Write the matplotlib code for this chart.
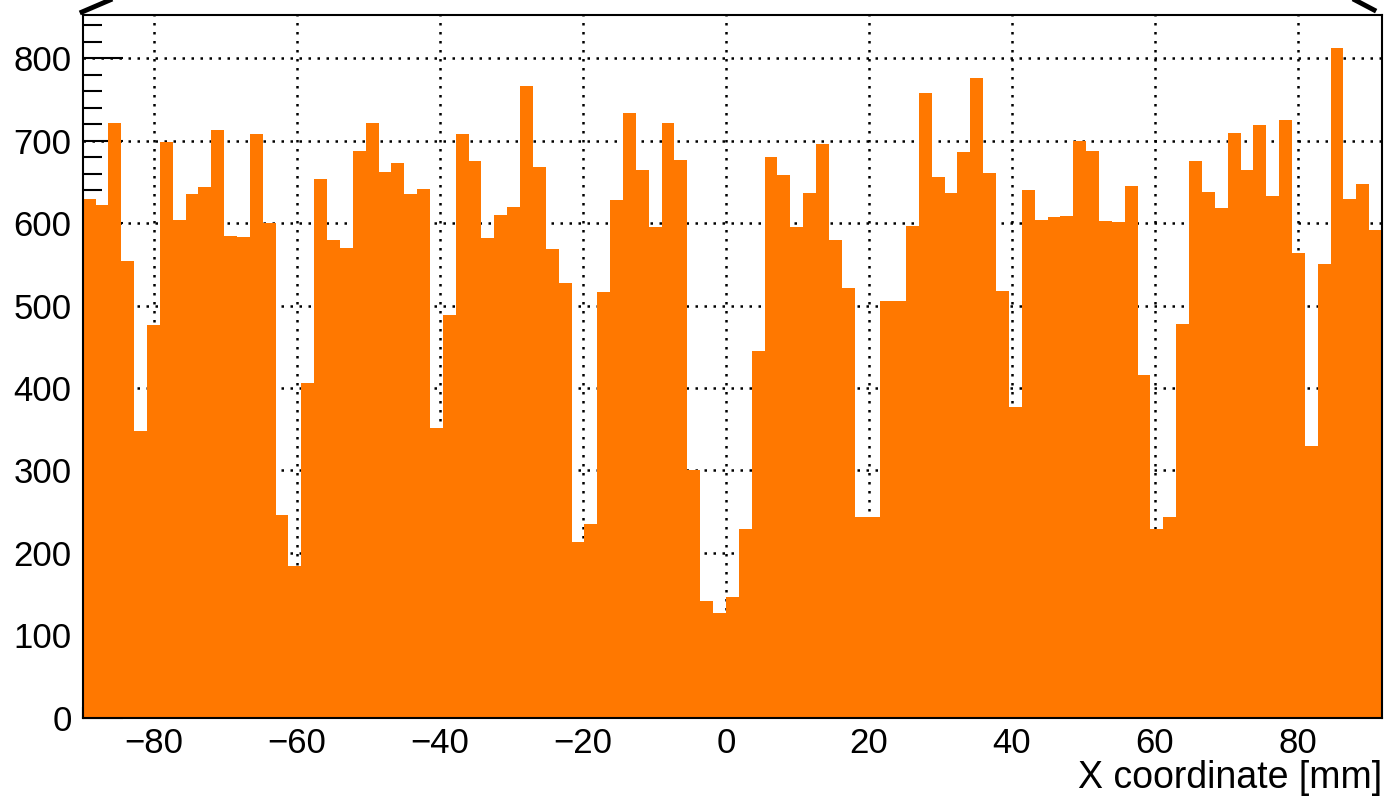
import numpy as np
import matplotlib
matplotlib.use("Agg")
import matplotlib.pyplot as plt
from matplotlib.ticker import MultipleLocator
from matplotlib.lines import Line2D

# histogram binning (101 bins of 1.8 mm starting at -90 mm)
x_lo = -90.0
bin_w = 1.8

# bin contents left to right
counts = [
    629, 622, 722, 554, 348, 477, 698, 604, 636, 644,
    713, 585, 583, 708, 600, 246, 184, 406, 654, 579,
    570, 688, 722, 662, 673, 636, 642, 352, 489, 708,
    676, 582, 610, 620, 766, 668, 569, 528, 213, 235,
    516, 628, 734, 665, 595, 721, 677, 300, 142, 127,
    146, 229, 445, 680, 658, 595, 637, 696, 580, 521,
    243, 243, 505, 505, 597, 758, 656, 637, 686, 776,
    661, 518, 377, 640, 604, 607, 609, 700, 687, 603,
    601, 645, 416, 229, 243, 478, 676, 638, 619, 709,
    665, 719, 633, 725, 564, 330, 550, 812, 629, 647,
    592,
]

x_ticks = [-80, -60, -40, -20, 0, 20, 40, 60, 80]
y_ticks = [0, 100, 200, 300, 400, 500, 600, 700, 800]
x_label = "X coordinate [mm]"

edges = x_lo + bin_w * np.arange(len(counts) + 1)

plt.rcParams['font.family'] = ['Liberation Sans', 'DejaVu Sans']

fig = plt.figure(figsize=(13.89, 7.97), dpi=100)
ax = fig.add_axes([0.0595, 0.0995, 0.9355, 0.8817])

ax.stairs(counts, edges, fill=True, color='#ff7800', zorder=2)

ax.set_xlim(edges[0], edges[-1])
ax.set_ylim(0, 1.05 * max(counts))

ax.set_xticks(x_ticks)
ax.set_yticks(y_ticks)
ax.xaxis.set_minor_locator(MultipleLocator(5))
ax.yaxis.set_minor_locator(MultipleLocator(20))

ax.set_axisbelow(True)
ax.grid(True, which='major', color='black', linestyle=(0, (1, 2.6)), linewidth=1.8)

ax.tick_params(axis='both', which='both', direction='in', width=1.5,
               top=False, right=False, labelsize=25, colors='black')
ax.tick_params(axis='y', which='major', length=29, pad=8)
ax.tick_params(axis='y', which='minor', length=14)
ax.tick_params(axis='x', which='major', length=15, pad=7)
ax.tick_params(axis='x', which='minor', length=8)

for sp in ax.spines.values():
    sp.set_linewidth(1.5)
    sp.set_zorder(3)

ax.set_xlabel(x_label, fontsize=27, loc='right', labelpad=0)

# bits of the frame that was cropped around the picture
W, H = 1389, 797
fig.add_artist(Line2D([82 / W, 110 / W], [1 - 12 / H, 1.0], color='black', linewidth=3.5))
fig.add_artist(Line2D([1355 / W, 1374 / W], [1.0, 1 - 10 / H], color='black', linewidth=3.5))

fig.savefig("out.png", dpi=100)
